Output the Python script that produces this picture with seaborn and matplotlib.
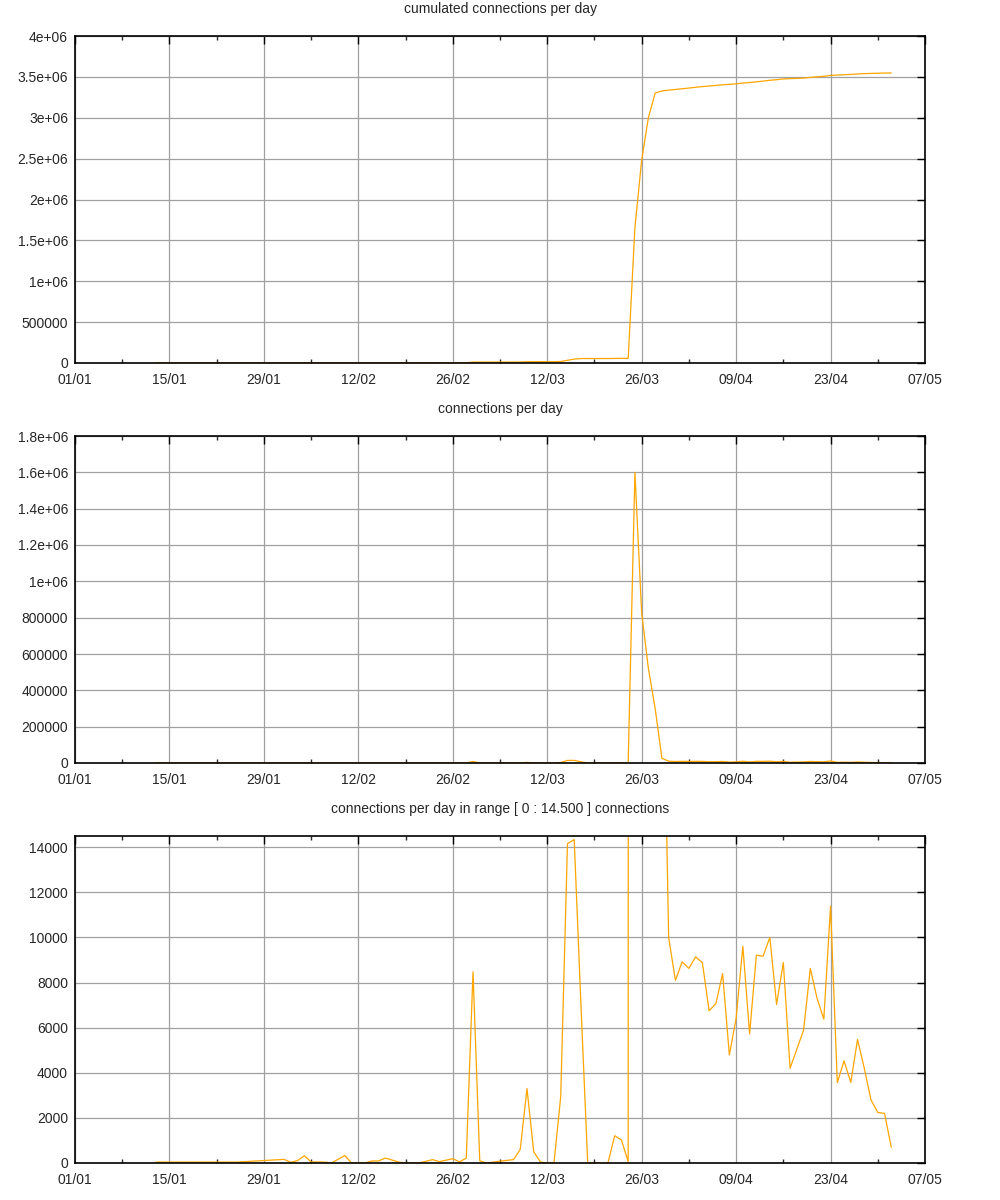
import numpy as np
import pandas as pd
import matplotlib
matplotlib.use("Agg")
import matplotlib.pyplot as plt
import matplotlib.dates as mdates
from matplotlib.ticker import FormatStrFormatter, MultipleLocator
import seaborn as sns

# days since 01/01 and connections on that day
day = [12, 13, 14, 15, 16, 17, 18, 19, 20, 21, 22, 23, 24,
       28, 31, 32, 33, 34, 35, 37, 38, 40, 41, 42, 43, 44, 45, 46, 48, 49, 50, 51,
       53, 54, 56, 57, 58, 59, 60, 61, 63, 65, 66, 67, 68, 69, 70, 71,
       72, 73, 74, 75, 76, 77, 79, 80, 81, 82,
       83, 84, 85, 86, 87, 88, 89, 90, 91, 92, 93, 94, 95, 96, 97, 98, 99, 100,
       101, 102, 103, 104, 105, 106, 108, 109, 110, 111, 112, 113, 114, 115,
       116, 117, 118, 119, 120, 121]
daily = [40, 40, 40, 40, 40, 40, 40, 40, 40, 40, 40, 40, 40,
         110, 160, 30, 110, 320, 50, 40, 0, 330, 0, 0, 0, 90, 90, 220, 40, 0, 0, 0,
         150, 60, 190, 50, 220, 8475, 100, 0, 80, 150, 600, 3300, 500, 40, 0, 0,
         2940, 14160, 14340, 7000, 20, 0, 0, 1210, 1020, 60,
         1600000, 825000, 520000, 300000, 26000, 10000, 8100, 8920, 8630, 9140, 8880, 6750, 7070, 8400, 4790, 6410, 9610, 5720,
         9220, 9170, 10000, 7030, 8890, 4200, 5890, 8630, 7300, 6380, 11390, 3560, 4530, 3570,
         5480, 4200, 2790, 2240, 2200, 700]

titles = ["cumulated connections per day",
          "connections per day",
          "connections per day in range [ 0 : 14.500 ] connections"]
ymax = [4000000, 1800000, 14500]
ystep = [500000, 200000, 2000]

start = pd.Timestamp("2015-01-01")
df = pd.DataFrame({"date": start + pd.to_timedelta(day, unit="D"), "daily": daily})
df["cumulated"] = np.cumsum(df["daily"])

sns.set_style("white")
plt.rcParams["font.family"] = ["Liberation Sans", "DejaVu Sans"]
plt.rcParams["font.size"] = 10

fig = plt.figure(figsize=(10, 12), dpi=100)
bottoms = [1 - 363 / 1200, 1 - 763 / 1200, 1 - 1163 / 1200]
title_y = [9, 409, 809]
cols = ["cumulated", "daily", "daily"]

for i in range(3):
    ax = fig.add_axes([0.075, bottoms[i], 0.85, 327 / 1200])
    sns.lineplot(data=df, x="date", y=cols[i], ax=ax, color="#ffa500", lw=0.9)
    ax.set_xlim(start, start + pd.Timedelta(days=126))
    ax.set_ylim(0, ymax[i])
    ax.set_xticks(pd.date_range(start, periods=10, freq="14D"))
    ax.set_xticks(pd.date_range(start + pd.Timedelta(days=7), periods=9, freq="14D"), minor=True)
    ax.xaxis.set_major_formatter(mdates.DateFormatter("%d/%m"))
    ax.yaxis.set_major_locator(MultipleLocator(ystep[i]))
    ax.yaxis.set_major_formatter(FormatStrFormatter("%g"))
    ax.set_xlabel("")
    ax.set_ylabel("")
    ax.grid(True, color="#a0a0a0", lw=0.9)
    ax.tick_params(which="major", direction="in", length=6, width=1, top=True, right=True,
                   labelsize=10, pad=5, color="black")
    ax.tick_params(axis="x", which="major", pad=7)
    ax.tick_params(which="minor", direction="in", length=3, width=1, top=True, bottom=True)
    for s in ax.spines.values():
        s.set_color("black")
        s.set_linewidth(1.2)
    fig.text(0.5, 1 - title_y[i] / 1200, titles[i], ha="center", va="center", fontsize=10)

fig.savefig("out.png", dpi=100)
